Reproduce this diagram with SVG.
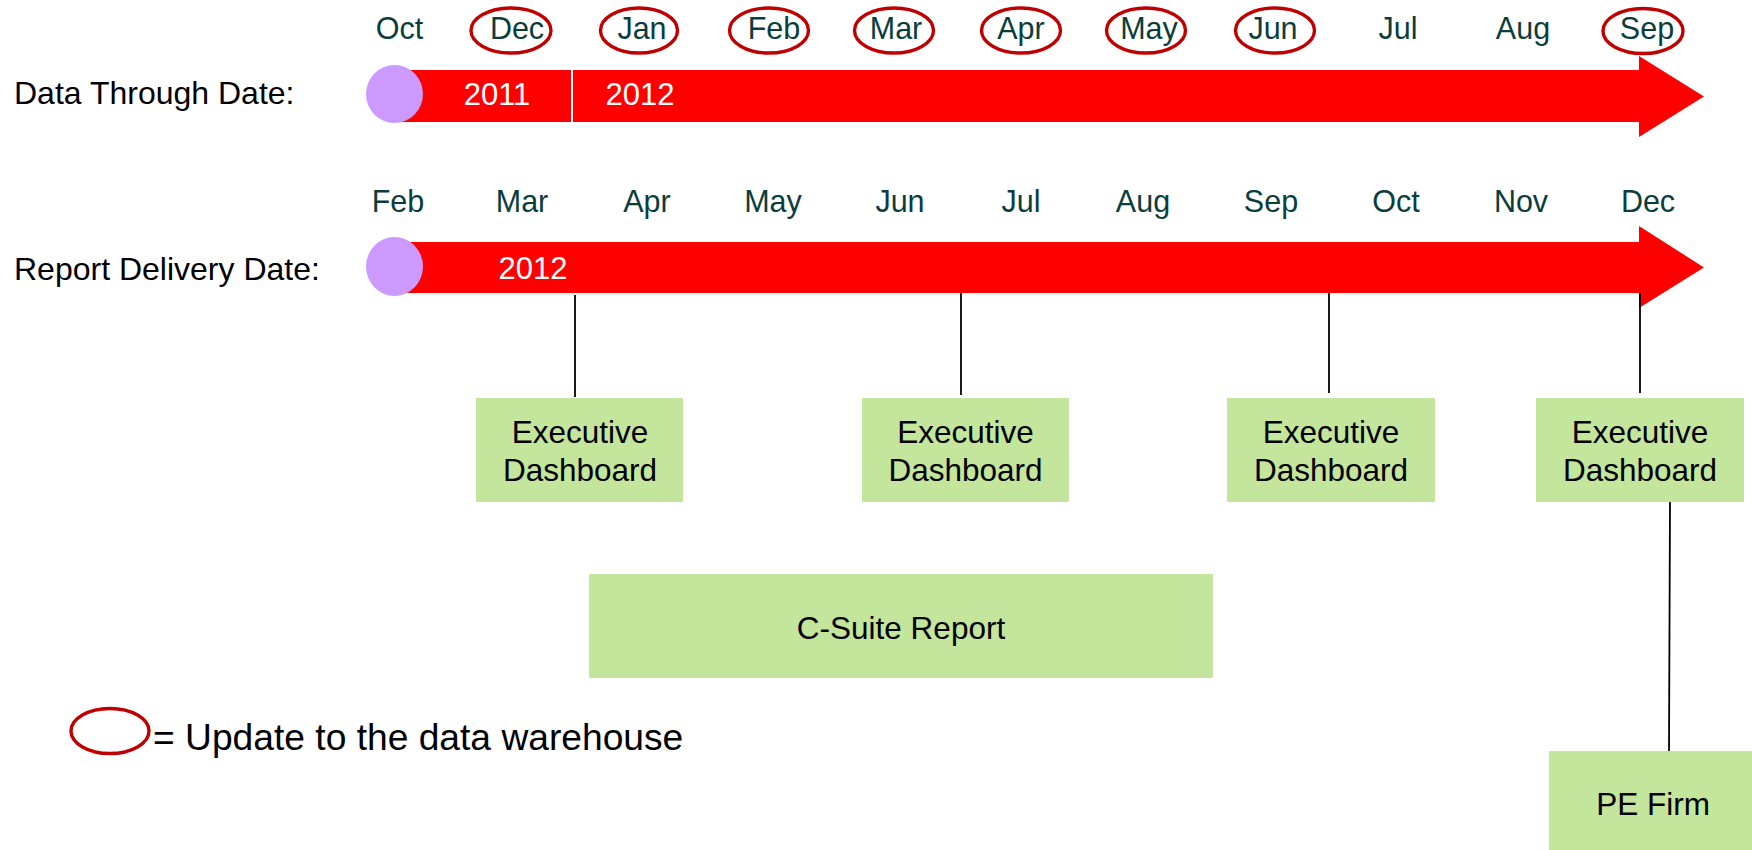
<svg xmlns="http://www.w3.org/2000/svg" width="1752" height="850" viewBox="0 0 1752 850">
<style>
text{font-family:"Liberation Sans",Arial,sans-serif}
.lbl{font-size:32px;fill:#000}
.mon{font-size:30.5px;fill:#0b3d3d;text-anchor:middle}
.yr{font-size:31px;fill:#fff;text-anchor:middle}
.upd{fill:none;stroke:#c00000;stroke-width:3.4}
.dot{fill:#cc99ff}
.arr{fill:#ff0000}
.box{fill:#c3e59c}
.bt{font-size:31.5px;fill:#000;text-anchor:middle}
.con{stroke:#000;stroke-width:1.8;fill:none}
</style>
<rect width="1752" height="850" fill="#fff"/>

<g id="timeline-data-through">
<text class="lbl" x="14" y="104">Data Through Date:</text>
<polygon class="arr" points="394,70 1639,70 1639,56 1704,96.5 1639,137 1639,122 394,122"/>
<line x1="572" y1="70" x2="572" y2="122" stroke="#fff" stroke-width="2"/>
<ellipse class="dot" cx="394.5" cy="94" rx="28.5" ry="29"/>
<text class="yr" x="497" y="105">2011</text>
<text class="yr" x="640" y="105">2012</text>
<g id="top-months">
<text class="mon" x="399.5" y="39">Oct</text>
<text class="mon" x="517" y="39">Dec</text>
<text class="mon" x="642" y="39">Jan</text>
<text class="mon" x="774" y="39">Feb</text>
<text class="mon" x="896" y="39">Mar</text>
<text class="mon" x="1021" y="39">Apr</text>
<text class="mon" x="1149" y="39">May</text>
<text class="mon" x="1273" y="39">Jun</text>
<text class="mon" x="1398" y="39">Jul</text>
<text class="mon" x="1523" y="39">Aug</text>
<text class="mon" x="1647" y="39">Sep</text>
</g>
<g id="update-marks">
<ellipse class="upd" cx="511" cy="30.5" rx="40" ry="22.5"/>
<ellipse class="upd" cx="639" cy="30.5" rx="38.5" ry="22.5"/>
<ellipse class="upd" cx="769" cy="30.5" rx="39.5" ry="22.5"/>
<ellipse class="upd" cx="894" cy="30.5" rx="39.5" ry="22.5"/>
<ellipse class="upd" cx="1021" cy="30.5" rx="39.5" ry="22.5"/>
<ellipse class="upd" cx="1146" cy="30.5" rx="39.5" ry="22.5"/>
<ellipse class="upd" cx="1275" cy="30.5" rx="39.5" ry="22.5"/>
<ellipse class="upd" cx="1643" cy="31" rx="40" ry="22.5"/>
</g>
</g>

<g id="timeline-report-delivery">
<text class="lbl" x="14" y="280">Report Delivery Date:</text>
<polygon class="arr" points="394,242 1639,242 1639,226 1704,267.5 1639,308 1639,293 394,293"/>
<ellipse class="dot" cx="394.5" cy="266.5" rx="28.5" ry="29.5"/>
<text class="yr" x="533" y="279">2012</text>
<g id="bottom-months">
<text class="mon" x="398" y="212">Feb</text>
<text class="mon" x="522" y="212">Mar</text>
<text class="mon" x="647" y="212">Apr</text>
<text class="mon" x="773" y="212">May</text>
<text class="mon" x="900" y="212">Jun</text>
<text class="mon" x="1021" y="212">Jul</text>
<text class="mon" x="1143" y="212">Aug</text>
<text class="mon" x="1271" y="212">Sep</text>
<text class="mon" x="1396" y="212">Oct</text>
<text class="mon" x="1521" y="212">Nov</text>
<text class="mon" x="1648" y="212">Dec</text>
</g>
</g>

<g id="connectors">
<line class="con" x1="575" y1="295" x2="575" y2="397"/>
<line class="con" x1="961" y1="293" x2="961" y2="395"/>
<line class="con" x1="1329" y1="293" x2="1329" y2="393"/>
<line class="con" x1="1640" y1="293" x2="1640" y2="393"/>
<line class="con" x1="1670" y1="502" x2="1669" y2="751"/>
</g>

<g id="dashboard-mar">
<rect class="box" x="476" y="398" width="207" height="104"/>
<text class="bt" x="580" y="443">Executive</text>
<text class="bt" x="580" y="481">Dashboard</text>
</g>
<g id="dashboard-jun">
<rect class="box" x="862" y="398" width="207" height="104"/>
<text class="bt" x="965.5" y="443">Executive</text>
<text class="bt" x="965.5" y="481">Dashboard</text>
</g>
<g id="dashboard-sep">
<rect class="box" x="1227" y="398" width="208" height="104"/>
<text class="bt" x="1331" y="443">Executive</text>
<text class="bt" x="1331" y="481">Dashboard</text>
</g>
<g id="dashboard-dec">
<rect class="box" x="1536" y="398" width="208" height="104"/>
<text class="bt" x="1640" y="443">Executive</text>
<text class="bt" x="1640" y="481">Dashboard</text>
</g>
<g id="csuite-report">
<rect class="box" x="589" y="574" width="624" height="104"/>
<text class="bt" x="901" y="639">C-Suite Report</text>
</g>
<g id="pe-firm">
<rect class="box" x="1549" y="751" width="208" height="104"/>
<text class="bt" x="1653" y="815">PE Firm</text>
</g>

<g id="legend">
<ellipse class="upd" cx="110" cy="731" rx="39" ry="22.5"/>
<text x="153" y="750" font-size="37.2" fill="#000">= Update to the data warehouse</text>
</g>
</svg>
